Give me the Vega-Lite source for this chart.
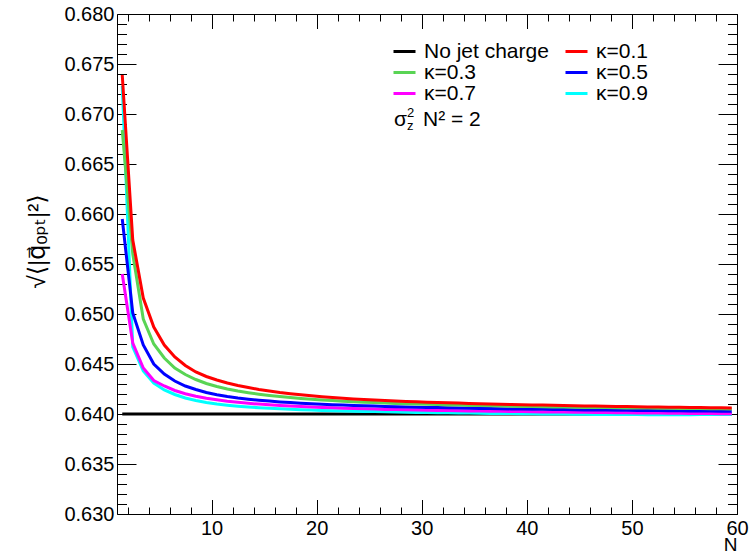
{
  "$schema": "https://vega.github.io/schema/vega-lite/v6.json",
  "width": 620,
  "height": 500,
  "autosize": {"type": "none"},
  "padding": {"left": 117, "top": 14, "right": 19, "bottom": 41},
  "background": "white",
  "config": {
    "view": {"stroke": "black", "strokeWidth": 1},
    "axis": {"grid": false, "domain": false, "tickColor": "black", "tickWidth": 1, "labelColor": "black", "labelFont": "Liberation Sans", "labelFontSize": 20, "labelFlush": false, "labelOverlap": false, "labelBound": false, "titleColor": "black", "titleFontWeight": "normal"}
  },
  "data": {"values": [
    {"s":"No jet charge","N":1.5,"q":0.64},{"s":"No jet charge","N":59.5,"q":0.64},
    {"s":"κ=0.9","N":1.5,"q":0.6728},{"s":"κ=0.9","N":2.5,"q":0.6467},{"s":"κ=0.9","N":3.5,"q":0.6443},{"s":"κ=0.9","N":4.5,"q":0.6431},{"s":"κ=0.9","N":5.5,"q":0.6424},{"s":"κ=0.9","N":6.5,"q":0.64195},{"s":"κ=0.9","N":7.5,"q":0.6416},{"s":"κ=0.9","N":8.5,"q":0.64135},{"s":"κ=0.9","N":9.5,"q":0.64115},{"s":"κ=0.9","N":10.5,"q":0.641},
    {"s":"κ=0.9","N":11.5,"q":0.64088},{"s":"κ=0.9","N":12.5,"q":0.64078},{"s":"κ=0.9","N":13.5,"q":0.6407},{"s":"κ=0.9","N":14.5,"q":0.64063},{"s":"κ=0.9","N":15.5,"q":0.64057},{"s":"κ=0.9","N":16.5,"q":0.64052},{"s":"κ=0.9","N":17.5,"q":0.64047},{"s":"κ=0.9","N":18.5,"q":0.64043},{"s":"κ=0.9","N":19.5,"q":0.64039},{"s":"κ=0.9","N":20.5,"q":0.64036},
    {"s":"κ=0.9","N":21.5,"q":0.64033},{"s":"κ=0.9","N":22.5,"q":0.6403},{"s":"κ=0.9","N":23.5,"q":0.64028},{"s":"κ=0.9","N":24.5,"q":0.64026},{"s":"κ=0.9","N":25.5,"q":0.64024},{"s":"κ=0.9","N":26.5,"q":0.64022},{"s":"κ=0.9","N":27.5,"q":0.6402},{"s":"κ=0.9","N":28.5,"q":0.64018},{"s":"κ=0.9","N":29.5,"q":0.64016},{"s":"κ=0.9","N":30.5,"q":0.64015},
    {"s":"κ=0.9","N":31.5,"q":0.64013},{"s":"κ=0.9","N":32.5,"q":0.64012},{"s":"κ=0.9","N":33.5,"q":0.6401},{"s":"κ=0.9","N":34.5,"q":0.64009},{"s":"κ=0.9","N":35.5,"q":0.64008},{"s":"κ=0.9","N":36.5,"q":0.64006},{"s":"κ=0.9","N":37.5,"q":0.64005},{"s":"κ=0.9","N":38.5,"q":0.64004},{"s":"κ=0.9","N":39.5,"q":0.64003},{"s":"κ=0.9","N":40.5,"q":0.64002},
    {"s":"κ=0.9","N":41.5,"q":0.64001},{"s":"κ=0.9","N":42.5,"q":0.64},{"s":"κ=0.9","N":43.5,"q":0.63999},{"s":"κ=0.9","N":44.5,"q":0.63998},{"s":"κ=0.9","N":45.5,"q":0.63997},{"s":"κ=0.9","N":46.5,"q":0.63996},{"s":"κ=0.9","N":47.5,"q":0.63995},{"s":"κ=0.9","N":48.5,"q":0.63995},{"s":"κ=0.9","N":49.5,"q":0.63994},{"s":"κ=0.9","N":50.5,"q":0.63994},
    {"s":"κ=0.9","N":51.5,"q":0.63993},{"s":"κ=0.9","N":52.5,"q":0.63993},{"s":"κ=0.9","N":53.5,"q":0.63993},{"s":"κ=0.9","N":54.5,"q":0.63993},{"s":"κ=0.9","N":55.5,"q":0.63993},{"s":"κ=0.9","N":56.5,"q":0.63994},{"s":"κ=0.9","N":57.5,"q":0.63994},{"s":"κ=0.9","N":58.5,"q":0.63995},{"s":"κ=0.9","N":59.5,"q":0.63995},
    {"s":"κ=0.7","N":1.5,"q":0.654},{"s":"κ=0.7","N":2.5,"q":0.6471},{"s":"κ=0.7","N":3.5,"q":0.6446},{"s":"κ=0.7","N":4.5,"q":0.64335},{"s":"κ=0.7","N":5.5,"q":0.6428},{"s":"κ=0.7","N":6.5,"q":0.64235},{"s":"κ=0.7","N":7.5,"q":0.64203},{"s":"κ=0.7","N":8.5,"q":0.64178},{"s":"κ=0.7","N":9.5,"q":0.64158},{"s":"κ=0.7","N":10.5,"q":0.64142},
    {"s":"κ=0.7","N":11.5,"q":0.64128},{"s":"κ=0.7","N":12.5,"q":0.64117},{"s":"κ=0.7","N":13.5,"q":0.64107},{"s":"κ=0.7","N":14.5,"q":0.64099},{"s":"κ=0.7","N":15.5,"q":0.64092},{"s":"κ=0.7","N":16.5,"q":0.64085},{"s":"κ=0.7","N":17.5,"q":0.6408},{"s":"κ=0.7","N":18.5,"q":0.64075},{"s":"κ=0.7","N":19.5,"q":0.6407},{"s":"κ=0.7","N":20.5,"q":0.64066},
    {"s":"κ=0.7","N":21.5,"q":0.64062},{"s":"κ=0.7","N":22.5,"q":0.64058},{"s":"κ=0.7","N":23.5,"q":0.64055},{"s":"κ=0.7","N":24.5,"q":0.64052},{"s":"κ=0.7","N":25.5,"q":0.64049},{"s":"κ=0.7","N":26.5,"q":0.64046},{"s":"κ=0.7","N":27.5,"q":0.64044},{"s":"κ=0.7","N":28.5,"q":0.64042},{"s":"κ=0.7","N":29.5,"q":0.6404},{"s":"κ=0.7","N":30.5,"q":0.64038},
    {"s":"κ=0.7","N":31.5,"q":0.64036},{"s":"κ=0.7","N":32.5,"q":0.64035},{"s":"κ=0.7","N":33.5,"q":0.64033},{"s":"κ=0.7","N":34.5,"q":0.64031},{"s":"κ=0.7","N":35.5,"q":0.6403},{"s":"κ=0.7","N":36.5,"q":0.64028},{"s":"κ=0.7","N":37.5,"q":0.64027},{"s":"κ=0.7","N":38.5,"q":0.64025},{"s":"κ=0.7","N":39.5,"q":0.64024},{"s":"κ=0.7","N":40.5,"q":0.64023},
    {"s":"κ=0.7","N":41.5,"q":0.64021},{"s":"κ=0.7","N":42.5,"q":0.6402},{"s":"κ=0.7","N":43.5,"q":0.64019},{"s":"κ=0.7","N":44.5,"q":0.64018},{"s":"κ=0.7","N":45.5,"q":0.64017},{"s":"κ=0.7","N":46.5,"q":0.64015},{"s":"κ=0.7","N":47.5,"q":0.64014},{"s":"κ=0.7","N":48.5,"q":0.64013},{"s":"κ=0.7","N":49.5,"q":0.64012},{"s":"κ=0.7","N":50.5,"q":0.64011},
    {"s":"κ=0.7","N":51.5,"q":0.6401},{"s":"κ=0.7","N":52.5,"q":0.64009},{"s":"κ=0.7","N":53.5,"q":0.64008},{"s":"κ=0.7","N":54.5,"q":0.64007},{"s":"κ=0.7","N":55.5,"q":0.64006},{"s":"κ=0.7","N":56.5,"q":0.64005},{"s":"κ=0.7","N":57.5,"q":0.64004},{"s":"κ=0.7","N":58.5,"q":0.64003},{"s":"κ=0.7","N":59.5,"q":0.64002},
    {"s":"κ=0.5","N":1.5,"q":0.6595},{"s":"κ=0.5","N":2.5,"q":0.6501},{"s":"κ=0.5","N":3.5,"q":0.6469},{"s":"κ=0.5","N":4.5,"q":0.645},{"s":"κ=0.5","N":5.5,"q":0.644},{"s":"κ=0.5","N":6.5,"q":0.6433},{"s":"κ=0.5","N":7.5,"q":0.6428},{"s":"κ=0.5","N":8.5,"q":0.64245},{"s":"κ=0.5","N":9.5,"q":0.64215},{"s":"κ=0.5","N":10.5,"q":0.64193},
    {"s":"κ=0.5","N":11.5,"q":0.64175},{"s":"κ=0.5","N":12.5,"q":0.6416},{"s":"κ=0.5","N":13.5,"q":0.64148},{"s":"κ=0.5","N":14.5,"q":0.64138},{"s":"κ=0.5","N":15.5,"q":0.64129},{"s":"κ=0.5","N":16.5,"q":0.64121},{"s":"κ=0.5","N":17.5,"q":0.64114},{"s":"κ=0.5","N":18.5,"q":0.64108},{"s":"κ=0.5","N":19.5,"q":0.64102},{"s":"κ=0.5","N":20.5,"q":0.64097},
    {"s":"κ=0.5","N":21.5,"q":0.64093},{"s":"κ=0.5","N":22.5,"q":0.64089},{"s":"κ=0.5","N":23.5,"q":0.64085},{"s":"κ=0.5","N":24.5,"q":0.64082},{"s":"κ=0.5","N":25.5,"q":0.64079},{"s":"κ=0.5","N":26.5,"q":0.64076},{"s":"κ=0.5","N":27.5,"q":0.64073},{"s":"κ=0.5","N":28.5,"q":0.64071},{"s":"κ=0.5","N":29.5,"q":0.64068},{"s":"κ=0.5","N":30.5,"q":0.64066},
    {"s":"κ=0.5","N":31.5,"q":0.64064},{"s":"κ=0.5","N":32.5,"q":0.64062},{"s":"κ=0.5","N":33.5,"q":0.6406},{"s":"κ=0.5","N":34.5,"q":0.64058},{"s":"κ=0.5","N":35.5,"q":0.64056},{"s":"κ=0.5","N":36.5,"q":0.64054},{"s":"κ=0.5","N":37.5,"q":0.64053},{"s":"κ=0.5","N":38.5,"q":0.64051},{"s":"κ=0.5","N":39.5,"q":0.6405},{"s":"κ=0.5","N":40.5,"q":0.64048},
    {"s":"κ=0.5","N":41.5,"q":0.64047},{"s":"κ=0.5","N":42.5,"q":0.64045},{"s":"κ=0.5","N":43.5,"q":0.64044},{"s":"κ=0.5","N":44.5,"q":0.64043},{"s":"κ=0.5","N":45.5,"q":0.64041},{"s":"κ=0.5","N":46.5,"q":0.6404},{"s":"κ=0.5","N":47.5,"q":0.64039},{"s":"κ=0.5","N":48.5,"q":0.64038},{"s":"κ=0.5","N":49.5,"q":0.64037},{"s":"κ=0.5","N":50.5,"q":0.64036},
    {"s":"κ=0.5","N":51.5,"q":0.64035},{"s":"κ=0.5","N":52.5,"q":0.64034},{"s":"κ=0.5","N":53.5,"q":0.64033},{"s":"κ=0.5","N":54.5,"q":0.64032},{"s":"κ=0.5","N":55.5,"q":0.64031},{"s":"κ=0.5","N":56.5,"q":0.6403},{"s":"κ=0.5","N":57.5,"q":0.64029},{"s":"κ=0.5","N":58.5,"q":0.64028},{"s":"κ=0.5","N":59.5,"q":0.64027},
    {"s":"κ=0.3","N":1.5,"q":0.6684},{"s":"κ=0.3","N":2.5,"q":0.656},{"s":"κ=0.3","N":3.5,"q":0.6495},{"s":"κ=0.3","N":4.5,"q":0.647},{"s":"κ=0.3","N":5.5,"q":0.6456},{"s":"κ=0.3","N":6.5,"q":0.6446},{"s":"κ=0.3","N":7.5,"q":0.64395},{"s":"κ=0.3","N":8.5,"q":0.64345},{"s":"κ=0.3","N":9.5,"q":0.64305},{"s":"κ=0.3","N":10.5,"q":0.64275},
    {"s":"κ=0.3","N":11.5,"q":0.6425},{"s":"κ=0.3","N":12.5,"q":0.6423},{"s":"κ=0.3","N":13.5,"q":0.64213},{"s":"κ=0.3","N":14.5,"q":0.64198},{"s":"κ=0.3","N":15.5,"q":0.64185},{"s":"κ=0.3","N":16.5,"q":0.64174},{"s":"κ=0.3","N":17.5,"q":0.64164},{"s":"κ=0.3","N":18.5,"q":0.64155},{"s":"κ=0.3","N":19.5,"q":0.64147},{"s":"κ=0.3","N":20.5,"q":0.6414},
    {"s":"κ=0.3","N":21.5,"q":0.64134},{"s":"κ=0.3","N":22.5,"q":0.64128},{"s":"κ=0.3","N":23.5,"q":0.64123},{"s":"κ=0.3","N":24.5,"q":0.64118},{"s":"κ=0.3","N":25.5,"q":0.64114},{"s":"κ=0.3","N":26.5,"q":0.6411},{"s":"κ=0.3","N":27.5,"q":0.64106},{"s":"κ=0.3","N":28.5,"q":0.64103},{"s":"κ=0.3","N":29.5,"q":0.641},{"s":"κ=0.3","N":30.5,"q":0.64097},
    {"s":"κ=0.3","N":31.5,"q":0.64094},{"s":"κ=0.3","N":32.5,"q":0.64091},{"s":"κ=0.3","N":33.5,"q":0.64089},{"s":"κ=0.3","N":34.5,"q":0.64086},{"s":"κ=0.3","N":35.5,"q":0.64084},{"s":"κ=0.3","N":36.5,"q":0.64082},{"s":"κ=0.3","N":37.5,"q":0.6408},{"s":"κ=0.3","N":38.5,"q":0.64078},{"s":"κ=0.3","N":39.5,"q":0.64076},{"s":"κ=0.3","N":40.5,"q":0.64074},
    {"s":"κ=0.3","N":41.5,"q":0.64072},{"s":"κ=0.3","N":42.5,"q":0.64071},{"s":"κ=0.3","N":43.5,"q":0.64069},{"s":"κ=0.3","N":44.5,"q":0.64068},{"s":"κ=0.3","N":45.5,"q":0.64066},{"s":"κ=0.3","N":46.5,"q":0.64065},{"s":"κ=0.3","N":47.5,"q":0.64064},{"s":"κ=0.3","N":48.5,"q":0.64062},{"s":"κ=0.3","N":49.5,"q":0.64061},{"s":"κ=0.3","N":50.5,"q":0.6406},
    {"s":"κ=0.3","N":51.5,"q":0.64059},{"s":"κ=0.3","N":52.5,"q":0.64058},{"s":"κ=0.3","N":53.5,"q":0.64057},{"s":"κ=0.3","N":54.5,"q":0.64056},{"s":"κ=0.3","N":55.5,"q":0.64055},{"s":"κ=0.3","N":56.5,"q":0.64054},{"s":"κ=0.3","N":57.5,"q":0.64053},{"s":"κ=0.3","N":58.5,"q":0.64052},{"s":"κ=0.3","N":59.5,"q":0.64051},
    {"s":"κ=0.1","N":1.5,"q":0.6739},{"s":"κ=0.1","N":2.5,"q":0.6574},{"s":"κ=0.1","N":3.5,"q":0.6516},{"s":"κ=0.1","N":4.5,"q":0.6487},{"s":"κ=0.1","N":5.5,"q":0.6469},{"s":"κ=0.1","N":6.5,"q":0.6457},{"s":"κ=0.1","N":7.5,"q":0.64485},{"s":"κ=0.1","N":8.5,"q":0.6442},{"s":"κ=0.1","N":9.5,"q":0.64375},{"s":"κ=0.1","N":10.5,"q":0.6434},
    {"s":"κ=0.1","N":11.5,"q":0.6431},{"s":"κ=0.1","N":12.5,"q":0.64285},{"s":"κ=0.1","N":13.5,"q":0.64265},{"s":"κ=0.1","N":14.5,"q":0.64245},{"s":"κ=0.1","N":15.5,"q":0.6423},{"s":"κ=0.1","N":16.5,"q":0.64215},{"s":"κ=0.1","N":17.5,"q":0.64203},{"s":"κ=0.1","N":18.5,"q":0.64192},{"s":"κ=0.1","N":19.5,"q":0.64182},{"s":"κ=0.1","N":20.5,"q":0.64173},
    {"s":"κ=0.1","N":21.5,"q":0.64165},{"s":"κ=0.1","N":22.5,"q":0.64158},{"s":"κ=0.1","N":23.5,"q":0.64151},{"s":"κ=0.1","N":24.5,"q":0.64145},{"s":"κ=0.1","N":25.5,"q":0.6414},{"s":"κ=0.1","N":26.5,"q":0.64135},{"s":"κ=0.1","N":27.5,"q":0.6413},{"s":"κ=0.1","N":28.5,"q":0.64126},{"s":"κ=0.1","N":29.5,"q":0.64122},{"s":"κ=0.1","N":30.5,"q":0.64118},
    {"s":"κ=0.1","N":31.5,"q":0.64115},{"s":"κ=0.1","N":32.5,"q":0.64112},{"s":"κ=0.1","N":33.5,"q":0.64109},{"s":"κ=0.1","N":34.5,"q":0.64106},{"s":"κ=0.1","N":35.5,"q":0.64103},{"s":"κ=0.1","N":36.5,"q":0.641},{"s":"κ=0.1","N":37.5,"q":0.64098},{"s":"κ=0.1","N":38.5,"q":0.64095},{"s":"κ=0.1","N":39.5,"q":0.64093},{"s":"κ=0.1","N":40.5,"q":0.64091},
    {"s":"κ=0.1","N":41.5,"q":0.64089},{"s":"κ=0.1","N":42.5,"q":0.64087},{"s":"κ=0.1","N":43.5,"q":0.64085},{"s":"κ=0.1","N":44.5,"q":0.64083},{"s":"κ=0.1","N":45.5,"q":0.64081},{"s":"κ=0.1","N":46.5,"q":0.64079},{"s":"κ=0.1","N":47.5,"q":0.64077},{"s":"κ=0.1","N":48.5,"q":0.64076},{"s":"κ=0.1","N":49.5,"q":0.64074},{"s":"κ=0.1","N":50.5,"q":0.64073},
    {"s":"κ=0.1","N":51.5,"q":0.64071},{"s":"κ=0.1","N":52.5,"q":0.6407},{"s":"κ=0.1","N":53.5,"q":0.64068},{"s":"κ=0.1","N":54.5,"q":0.64067},{"s":"κ=0.1","N":55.5,"q":0.64066},{"s":"κ=0.1","N":56.5,"q":0.64064},{"s":"κ=0.1","N":57.5,"q":0.64063},{"s":"κ=0.1","N":58.5,"q":0.64062},{"s":"κ=0.1","N":59.5,"q":0.64061}
  ]},
  "resolve": {"axis": {"x": "independent", "y": "independent"}},
  "layer": [
    {
      "transform": [{"filter": "datum.s === 'No jet charge'"}],
      "mark": {"type": "line", "strokeWidth": 3},
      "encoding": {
        "x": {"field": "N", "type": "quantitative", "scale": {"domain": [1, 60], "nice": false, "zero": false},
          "axis": {"orient": "bottom", "values": [10, 20, 30, 40, 50, 60], "tickSize": -14.5, "labelPadding": 18.5, "format": "d",
            "title": "N", "titleFont": "Liberation Sans", "titleFontSize": 19, "titleX": 620, "titleY": 36.5, "titleAlign": "right", "titleBaseline": "alphabetic", "titleAnchor": "end"}},
        "y": {"field": "q", "type": "quantitative", "scale": {"domain": [0.63, 0.68], "nice": false, "zero": false},
          "axis": {"orient": "left", "values": [0.63, 0.635, 0.64, 0.645, 0.65, 0.655, 0.66, 0.665, 0.67, 0.675, 0.68], "format": ".3f", "tickSize": -19, "labelPadding": 22,
            "title": "√⟨|q⃗ₒₚₜ|²⟩", "titleFont": "Liberation Sans, DejaVu Sans", "titleFontSize": 24, "titleAngle": -90, "titleX": -80, "titleY": 227, "titleAlign": "center", "titleBaseline": "middle"}},
        "color": {"field": "s", "type": "nominal",
          "scale": {"domain": ["No jet charge", "κ=0.3", "κ=0.7", "κ=0.1", "κ=0.5", "κ=0.9"], "range": ["#000000", "#59d454", "#ff00ff", "#ff0000", "#0000ff", "#00ffff"]},
          "legend": {"orient": "none", "legendX": 275, "legendY": 27.5, "columns": 2, "symbolType": "stroke", "symbolSize": 484, "symbolStrokeWidth": 3, "clipHeight": 20,
            "labelFont": "Liberation Sans", "labelFontSize": 21, "labelColor": "black", "labelOffset": 7, "columnPadding": 15, "rowPadding": 0, "padding": 0, "title": null, "labelLimit": 0}}
      }
    },
    {
      "transform": [{"filter": "datum.s === 'κ=0.9'"}],
      "mark": {"type": "line", "strokeWidth": 3},
      "encoding": {
        "x": {"field": "N", "type": "quantitative", "scale": {"domain": [1, 60], "nice": false, "zero": false},
          "axis": {"orient": "bottom", "values": [2,4,6,8,10,12,14,16,18,20,22,24,26,28,30,32,34,36,38,40,42,44,46,48,50,52,54,56,58,60], "tickSize": -7, "labels": false, "title": null}},
        "y": {"field": "q", "type": "quantitative", "scale": {"domain": [0.63, 0.68], "nice": false, "zero": false},
          "axis": {"orient": "left", "values": [0.631,0.632,0.633,0.634,0.636,0.637,0.638,0.639,0.641,0.642,0.643,0.644,0.646,0.647,0.648,0.649,0.651,0.652,0.653,0.654,0.656,0.657,0.658,0.659,0.661,0.662,0.663,0.664,0.666,0.667,0.668,0.669,0.671,0.672,0.673,0.674,0.676,0.677,0.678,0.679], "tickSize": -9.5, "labels": false, "title": null}},
        "color": {"field": "s", "type": "nominal"}
      }
    },
    {
      "transform": [{"filter": "datum.s === 'κ=0.7'"}],
      "mark": {"type": "line", "strokeWidth": 3},
      "encoding": {
        "x": {"field": "N", "type": "quantitative", "scale": {"domain": [1, 60], "nice": false, "zero": false},
          "axis": {"orient": "top", "values": [10, 20, 30, 40, 50, 60], "tickSize": -14.5, "labels": false, "title": null}},
        "y": {"field": "q", "type": "quantitative", "scale": {"domain": [0.63, 0.68], "nice": false, "zero": false},
          "axis": {"orient": "right", "values": [0.63, 0.635, 0.64, 0.645, 0.65, 0.655, 0.66, 0.665, 0.67, 0.675, 0.68], "tickSize": -19, "labels": false, "title": null}},
        "color": {"field": "s", "type": "nominal"}
      }
    },
    {
      "transform": [{"filter": "datum.s === 'κ=0.5'"}],
      "mark": {"type": "line", "strokeWidth": 3},
      "encoding": {
        "x": {"field": "N", "type": "quantitative", "scale": {"domain": [1, 60], "nice": false, "zero": false},
          "axis": {"orient": "top", "values": [2,4,6,8,10,12,14,16,18,20,22,24,26,28,30,32,34,36,38,40,42,44,46,48,50,52,54,56,58,60], "tickSize": -7, "labels": false, "title": null}},
        "y": {"field": "q", "type": "quantitative", "scale": {"domain": [0.63, 0.68], "nice": false, "zero": false},
          "axis": {"orient": "right", "values": [0.631,0.632,0.633,0.634,0.636,0.637,0.638,0.639,0.641,0.642,0.643,0.644,0.646,0.647,0.648,0.649,0.651,0.652,0.653,0.654,0.656,0.657,0.658,0.659,0.661,0.662,0.663,0.664,0.666,0.667,0.668,0.669,0.671,0.672,0.673,0.674,0.676,0.677,0.678,0.679], "tickSize": -9.5, "labels": false, "title": null}},
        "color": {"field": "s", "type": "nominal"}
      }
    },
    {
      "transform": [{"filter": "datum.s === 'κ=0.3'"}],
      "mark": {"type": "line", "strokeWidth": 3},
      "encoding": {
        "x": {"field": "N", "type": "quantitative", "scale": {"domain": [1, 60], "nice": false, "zero": false}, "axis": null},
        "y": {"field": "q", "type": "quantitative", "scale": {"domain": [0.63, 0.68], "nice": false, "zero": false}, "axis": null},
        "color": {"field": "s", "type": "nominal"}
      }
    },
    {
      "transform": [{"filter": "datum.s === 'κ=0.1'"}],
      "mark": {"type": "line", "strokeWidth": 3},
      "encoding": {
        "x": {"field": "N", "type": "quantitative", "scale": {"domain": [1, 60], "nice": false, "zero": false}, "axis": null},
        "y": {"field": "q", "type": "quantitative", "scale": {"domain": [0.63, 0.68], "nice": false, "zero": false}, "axis": null},
        "color": {"field": "s", "type": "nominal"}
      }
    },
    {
      "data": {"values": [{}]},
      "mark": {"type": "text", "text": "σ", "font": "Liberation Sans", "fontSize": 21, "align": "left", "baseline": "alphabetic", "color": "black"},
      "encoding": {"x": {"datum": 27.36, "type": "quantitative", "axis": null}, "y": {"datum": 0.6688, "type": "quantitative", "axis": null}}
    },
    {
      "data": {"values": [{}]},
      "mark": {"type": "text", "text": "2", "font": "Liberation Sans", "fontSize": 13, "align": "left", "baseline": "alphabetic", "color": "black", "dx": 13, "dy": -9},
      "encoding": {"x": {"datum": 27.36, "type": "quantitative", "axis": null}, "y": {"datum": 0.6688, "type": "quantitative", "axis": null}}
    },
    {
      "data": {"values": [{}]},
      "mark": {"type": "text", "text": "z", "font": "Liberation Sans", "fontSize": 13, "align": "left", "baseline": "alphabetic", "color": "black", "dx": 13, "dy": 4},
      "encoding": {"x": {"datum": 27.36, "type": "quantitative", "axis": null}, "y": {"datum": 0.6688, "type": "quantitative", "axis": null}}
    },
    {
      "data": {"values": [{}]},
      "mark": {"type": "text", "text": "N² = 2", "font": "Liberation Sans", "fontSize": 21, "align": "left", "baseline": "alphabetic", "color": "black", "dx": 29},
      "encoding": {"x": {"datum": 27.36, "type": "quantitative", "axis": null}, "y": {"datum": 0.6688, "type": "quantitative", "axis": null}}
    }
  ]
}
